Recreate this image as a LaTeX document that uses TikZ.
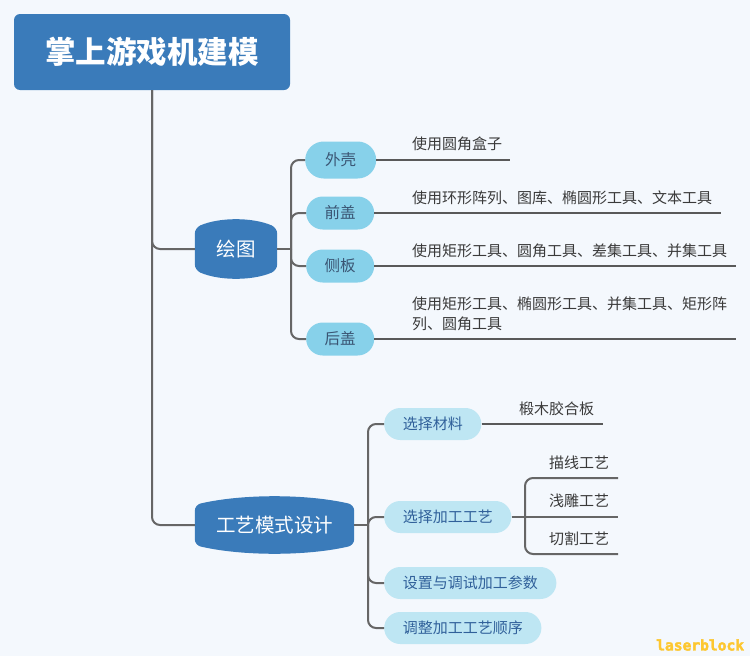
\documentclass[tikz,border=0pt]{standalone}
\usepackage{fontspec}
\setmainfont{Noto Sans CJK SC}
\newfontfamily\wmfont{DejaVu Sans Mono}[BoldFeatures={FakeBold=2.5}]
\usetikzlibrary{calc,backgrounds,shapes.misc}
\definecolor{bgc}{HTML}{F4F8FD}
\definecolor{mainblue}{HTML}{3A7BBA}
\definecolor{skyc}{HTML}{87D1EA}
\definecolor{palec}{HTML}{BEE6F3}
\definecolor{linec}{HTML}{666666}
\definecolor{leafline}{HTML}{595959}
\definecolor{subtxt}{HTML}{3A5573}
\definecolor{subtxtb}{HTML}{30609A}
\definecolor{leaftxt}{HTML}{3A3A3A}
\definecolor{wmc}{HTML}{FDC730}
\newcommand\bulgefill[2]{%
 \fill[mainblue,rounded corners=6pt] (#1.north west)
  .. controls ($(#1.north west)!0.3!(#1.north east)+(0,-#2)$) and ($(#1.north west)!0.7!(#1.north east)+(0,-#2)$) .. (#1.north east)
  -- (#1.south east)
  .. controls ($(#1.south west)!0.7!(#1.south east)+(0,#2)$) and ($(#1.south west)!0.3!(#1.south east)+(0,#2)$) .. (#1.south west)
  -- cycle;}
\begin{document}
\begin{tikzpicture}[x=1pt,y=-1pt,
  conn/.style={draw=linec,line width=2pt,rounded corners=8pt},
  leafconn/.style={draw=leafline,line width=1.8pt},
  rootbox/.style={fill=mainblue,rounded corners=6pt,minimum width=276pt,minimum height=76pt,inner sep=0pt,text=white,font=\bfseries\fontsize{30.5}{34}\selectfont},
  mainlbl/.style={inner sep=0pt,text=white,font=\fontsize{19.5}{22}\selectfont},
  subA/.style={rounded rectangle,fill=skyc,minimum height=33pt,minimum width=68pt,inner xsep=0pt,text=subtxt,font=\fontsize{15.5}{18}\selectfont,anchor=west},
  subB/.style={rounded rectangle,fill=palec,minimum height=32pt,inner xsep=17pt,text=subtxtb,font=\fontsize{15}{18}\selectfont,anchor=west},
  leaftext/.style={anchor=west,inner sep=0pt,text=leaftxt,font=\fontsize{15}{20}\selectfont,align=left},
  leaftextb/.style={anchor=west,inner sep=0pt,text=leaftxt,font=\fontsize{15}{18}\selectfont}]
\useasboundingbox (0,0) rectangle (750,656);
% root
\node[rootbox] (root) at (152,52) {掌上游戏机建模};
% main nodes
\node[mainlbl,minimum width=82pt,minimum height=42pt] (huitu) at (236,249) {绘图};
\node[mainlbl,minimum width=159pt,minimum height=40pt] (gongyi) at (274.5,525) {工艺模式设计};
\begin{scope}[on background layer]
 \fill[bgc] (0,0) rectangle (750,656);
 \bulgefill{huitu}{10.7}
 \bulgefill{gongyi}{11}
\end{scope}
% trunk
\draw[conn] (root.south) |- (huitu.west);
\draw[conn] (root.south) |- (gongyi.west);
% drawing group
\node[subA,minimum width=71pt,minimum height=37pt] (waike) at (305,160) {外壳};
\node[subA] (qiangai) at (306,213) {前盖};
\node[subA] (ceban) at (306,266) {侧板};
\node[subA] (hougai) at (306,339) {后盖};
\coordinate (hb) at (291,249);
\draw[conn,rounded corners=0pt] (huitu.east) -- (hb);
\draw[conn] (hb) |- (waike.west);
\draw[conn] (hb) |- (qiangai.west);
\draw[conn] (hb) |- (ceban.west);
\draw[conn] (hb) |- (hougai.west);
\coordinate (eA) at (510,160);
\coordinate (eB) at (721,213);
\coordinate (eC) at (736,266);
\coordinate (eD) at (736,339);
\draw[leafconn] (waike.east) -- (eA);
\draw[leafconn] (qiangai.east) -- (eB);
\draw[leafconn] (ceban.east) -- (eC);
\draw[leafconn] (hougai.east) -- (eD);
\node[leaftext] (tA) at (412,144) {使用圆角盒子};
\node[leaftext] (tB) at (412,198) {使用环形阵列、图库、椭圆形工具、文本工具};
\node[leaftext] (tC) at (412,251) {使用矩形工具、圆角工具、差集工具、并集工具};
\node[leaftext] (tD) at (412,314) {使用矩形工具、椭圆形工具、并集工具、矩形阵\\列、圆角工具};
% process group
\node[subB] (xcl) at (384,424) {选择材料};
\node[subB] (xjg) at (384,517) {选择加工工艺};
\node[subB] (szts) at (384,583) {设置与调试加工参数};
\node[subB] (tzsx) at (384,628) {调整加工工艺顺序};
\coordinate (gb) at (368,525);
\draw[conn,rounded corners=0pt] (gongyi.east) -- (gb);
\draw[conn] (gb) |- (xcl.west);
\draw[conn] (gb) |- (xjg.west);
\draw[conn] (gb) |- (szts.west);
\draw[conn] (gb) |- (tzsx.west);
\coordinate (eM) at (603,424);
\draw[leafconn] (xcl.east) -- (eM);
\node[leaftextb] (tM) at (519,409) {椴木胶合板};
\coordinate (jb) at (525,517);
\coordinate (e1) at (618,478);
\coordinate (e2) at (618,517);
\coordinate (e3) at (618,554);
\draw[conn] (xjg.east) -- (e2);
\draw[conn] (jb) |- (e1);
\draw[conn] (jb) |- (e3);
\node[leaftextb] (t1) at (549,463) {描线工艺};
\node[leaftextb] (t2) at (549,501) {浅雕工艺};
\node[leaftextb] (t3) at (549,539) {切割工艺};
% watermark
\node[anchor=west,inner sep=0pt,text=wmc,font=\wmfont\bfseries\fontsize{14.6}{16}\selectfont] (wm) at (656,645) {laserblock};
\end{tikzpicture}
\end{document}
